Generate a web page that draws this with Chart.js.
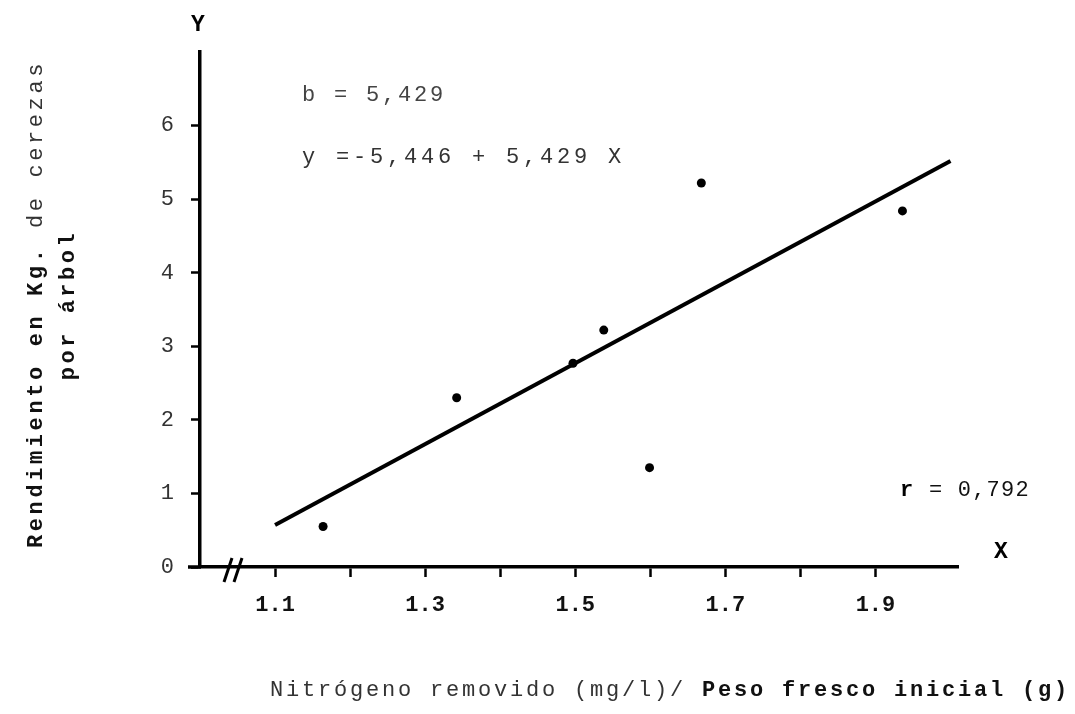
<!DOCTYPE html>
<html>
<head>
<meta charset="utf-8">
<script src="https://cdn.jsdelivr.net/npm/chart.js@4.4.0/dist/chart.umd.min.js"></script>
<style>
    html, body { margin: 0; padding: 0; background: #fff; }
    #wrap { width: 1075px; height: 714px; }
</style>
</head>
<body>
<div id="wrap"><canvas id="chart" width="1075" height="714"></canvas></div>
<script>
// Values
const nitrogen = [1.164, 1.342, 1.497, 1.538, 1.599, 1.668, 1.936];
const yieldKg = [0.55, 2.30, 2.77, 3.22, 1.35, 5.22, 4.84];
const fitX = [1.1, 2.0];
const fitY = [0.57, 5.52];
const xTicks = [1.1, 1.2, 1.3, 1.4, 1.5, 1.6, 1.7, 1.8, 1.9];
const xTickLabels = ['1.1', '', '1.3', '', '1.5', '', '1.7', '', '1.9'];
const yTicks = [0, 1, 2, 3, 4, 5, 6];
const yTickLabels = ['0', '1', '2', '3', '4', '5', '6'];

const MONO = '"Liberation Mono", "DejaVu Sans Mono", monospace';

function drawText(ctx, str, x, y, font, align, spacing, color) {
    ctx.font = font;
    ctx.textAlign = align;
    ctx.fillStyle = color || '#000';
    ctx.letterSpacing = (spacing || 0) + 'px';
    ctx.fillText(str, x, y);
}

// Free text on the figure: axis letters, equation, r, break mark and titles
const annotations = {
    id: 'annotations',
    afterDraw(chart) {
        const ctx = chart.ctx;
        ctx.save();
        ctx.textBaseline = 'middle';

        drawText(ctx, 'Y', 198, 25, 'bold 23px ' + MONO, 'center', 0);
        drawText(ctx, 'X', 1001, 552, 'bold 23px ' + MONO, 'center', 0);

        drawText(ctx, 'b = 5,429', 302, 95, '22px ' + MONO, 'left', 2.8, '#444');
        drawText(ctx, 'y =-5,446 + 5,429 X', 302, 157, '22px ' + MONO, 'left', 3.8, '#333');

        drawText(ctx, 'r', 900, 490, 'bold 22px ' + MONO, 'left', 0);
        drawText(ctx, '= 0,792', 929, 490, '22px ' + MONO, 'left', 1.2, '#111');

        // x axis runs a little past the y axis, then the break mark
        ctx.strokeStyle = '#000';
        ctx.lineWidth = 3.5;
        ctx.beginPath();
        ctx.moveTo(188, 567); ctx.lineTo(201, 567);
        ctx.stroke();
        ctx.lineWidth = 3;
        ctx.beginPath();
        ctx.moveTo(224, 582); ctx.lineTo(232, 558);
        ctx.moveTo(234, 582); ctx.lineTo(242, 558);
        ctx.stroke();

        // x title
        drawText(ctx, 'Nitrógeno removido (mg/l)/', 270, 690, '22px ' + MONO, 'left', 2.8, '#333');
        drawText(ctx, 'Peso fresco inicial (g)', 702, 690, 'bold 22px ' + MONO, 'left', 2.8, '#111');

        // y title, two rotated lines
        ctx.translate(36, 305);
        ctx.rotate(-Math.PI / 2);
        drawText(ctx, 'Rendimiento en Kg.', -243, 0, 'bold 22px ' + MONO, 'left', 3.6, '#111');
        drawText(ctx, 'de cerezas', 77, 0, '22px ' + MONO, 'left', 3.6, '#333');
        drawText(ctx, 'por árbol', 0, 32, 'bold 22px ' + MONO, 'center', 3.5, '#111');

        ctx.restore();
    }
};

const ctx = document.getElementById('chart').getContext('2d');
new Chart(ctx, {
    type: 'scatter',
    data: {
        datasets: [{
            label: 'Rendimiento',
            data: nitrogen.map((x, i) => ({ x: x, y: yieldKg[i] })),
            pointRadius: 4.5,
            pointBackgroundColor: '#000',
            pointBorderWidth: 0
        }, {
            type: 'line',
            label: 'Recta de regresión',
            data: fitX.map((x, i) => ({ x: x, y: fitY[i] })),
            borderColor: '#000',
            borderWidth: 4,
            pointRadius: 0,
            fill: false
        }]
    },
    options: {
        responsive: false,
        animation: false,
        layout: {
            padding: { top: 52, right: 117, bottom: 0, left: 0 }
        },
        plugins: {
            legend: { display: false },
            tooltip: { enabled: false }
        },
        scales: {
            x: {
                type: 'linear',
                min: 1.0,
                max: 2.01,
                afterBuildTicks: s => { s.ticks = xTicks.map(v => ({ value: v })); },
                afterFit: s => { s.height = 147; },
                border: { display: true, color: '#000', width: 3.5 },
                grid: { drawOnChartArea: false, drawTicks: true, tickLength: 10, tickWidth: 2.5, tickColor: '#000' },
                ticks: {
                    autoSkip: false,
                    maxRotation: 0,
                    padding: 15,
                    color: '#111',
                    font: { family: MONO, size: 22, weight: 'bold' },
                    callback: (v, i) => xTickLabels[i]
                }
            },
            y: {
                min: 0,
                max: 7,
                afterBuildTicks: s => { s.ticks = yTicks.map(v => ({ value: v })); },
                afterFit: s => { s.width = 200; },
                border: { display: true, color: '#000', width: 3.5 },
                grid: { drawOnChartArea: false, drawTicks: true, tickLength: 9, tickWidth: 2.5, tickColor: '#000' },
                ticks: {
                    padding: 17,
                    color: '#333',
                    font: { family: MONO, size: 22 },
                    callback: (v, i) => yTickLabels[i]
                }
            }
        }
    },
    plugins: [annotations]
});
</script>
</body>
</html>
